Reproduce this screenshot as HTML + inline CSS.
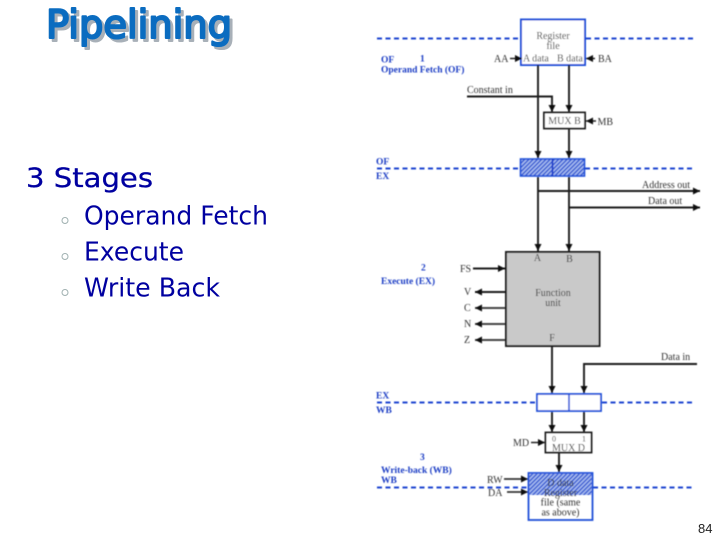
<!DOCTYPE html>
<html>
<head>
<meta charset="utf-8">
<style>
html,body{margin:0;padding:0;background:#fff;width:720px;height:540px;overflow:hidden}
svg{display:block}
.s{font-family:"Liberation Serif",serif;fill:#333;font-size:10px}
.b{font-family:"Liberation Serif",serif;fill:#1b3cc4;font-size:9.5px;font-weight:bold}
.t{font-family:"DejaVu Sans",sans-serif;fill:#0000a0}
.ti{font-family:"DejaVu Sans",sans-serif;font-size:39px;stroke-width:2.1px;stroke-linejoin:round;stroke-linecap:round}
</style>
</head>
<body>
<svg width="720" height="540" viewBox="0 0 720 540" xmlns="http://www.w3.org/2000/svg">
<defs>
<pattern id="h" width="3" height="3" patternUnits="userSpaceOnUse" patternTransform="rotate(45)">
<rect width="3" height="3" fill="#a9bdf0"/>
<rect width="1.4" height="3" fill="#2f55d0"/>
</pattern>
<marker id="a" markerWidth="9" markerHeight="8" refX="7" refY="4" orient="auto" markerUnits="userSpaceOnUse">
<path d="M0,0.5 L7,4 L0,7.5 Z" fill="#111"/>
</marker>
<filter id="bl" filterUnits="userSpaceOnUse" x="360" y="0" width="360" height="540"><feGaussianBlur stdDeviation="0.5"/></filter>
</defs>

<!-- Title -->
<text class="ti" x="49" y="41" textLength="186" lengthAdjust="spacingAndGlyphs" fill="#a8b0b8" stroke="#a8b0b8">Pipelining</text>
<text class="ti" x="46" y="38" textLength="186" lengthAdjust="spacingAndGlyphs" fill="#0b6cc0" stroke="#0b6cc0">Pipelining</text>

<!-- Left text -->
<text class="t" x="26" y="187" font-size="27" textLength="127" lengthAdjust="spacingAndGlyphs" stroke="#0000a0" stroke-width="0.3">3 Stages</text>
<text class="t" x="84" y="224.500" font-size="26" textLength="184" lengthAdjust="spacingAndGlyphs">Operand Fetch</text>
<text class="t" x="84" y="260.500" font-size="26" textLength="100" lengthAdjust="spacingAndGlyphs">Execute</text>
<text class="t" x="84" y="296.500" font-size="26" textLength="136" lengthAdjust="spacingAndGlyphs">Write Back</text>
<g fill="none" stroke="#9fb0b0" stroke-width="1">
<circle cx="65" cy="220.500" r="3"/>
<circle cx="65" cy="256.500" r="3"/>
<circle cx="65" cy="292.500" r="3"/>
</g>

<text x="698" y="533" font-family="'Liberation Sans',sans-serif" font-size="13" fill="#222">84</text>

<g filter="url(#bl)">
<!-- Dashed stage lines -->
<g stroke="#1f45d0" stroke-width="2" stroke-dasharray="5 3.500" fill="none">
<path d="M377 38.500H520"/><path d="M586 38.500H693"/>
<path d="M377 168.500H520"/><path d="M585 168.500H693"/>
<path d="M377 402.500H536"/><path d="M602 402.500H693"/>
<path d="M377 487.500H528"/><path d="M593 487.500H693"/>
</g>

<!-- Register file -->
<rect x="521" y="19.500" width="64" height="45.500" fill="#fff" stroke="#1f4fd8" stroke-width="2"/>
<text class="s" x="553" y="39" text-anchor="middle">Register</text>
<text class="s" x="553" y="49" text-anchor="middle">file</text>
<text class="s" x="523" y="61.500">A data</text>
<text class="s" x="557" y="61.500">B data</text>

<!-- OF labels -->
<text class="b" x="381" y="62.500">OF</text>
<text class="b" x="420" y="61.500">1</text>
<text class="b" x="381" y="72.500">Operand Fetch (OF)</text>
<text class="b" x="376" y="164.500">OF</text>
<text class="b" x="376" y="179">EX</text>
<text class="b" x="421" y="270.500">2</text>
<text class="b" x="381" y="284">Execute (EX)</text>
<text class="b" x="376" y="398.500">EX</text>
<text class="b" x="376" y="413">WB</text>
<text class="b" x="420" y="460">3</text>
<text class="b" x="381" y="473">Write-back (WB)</text>
<text class="b" x="381" y="483">WB</text>

<!-- Connectors -->
<g stroke="#1c1c1c" stroke-width="1.900" fill="none">
<path d="M510 58.500H522" stroke-width="1.400" marker-end="url(#a)"/>
<path d="M595 58.500H586" stroke-width="1.400" marker-end="url(#a)"/>
<path d="M538 65V158" marker-end="url(#a)"/>
<path d="M569 65V112" marker-end="url(#a)"/>
<path d="M467 96.500H552V112" marker-end="url(#a)"/>
<path d="M569 129V158" marker-end="url(#a)"/>
<path d="M596 121H586" stroke-width="1.400" marker-end="url(#a)"/>
<path d="M538 177V251" marker-end="url(#a)"/>
<path d="M569 177V251" marker-end="url(#a)"/>
<path d="M538 191H700" marker-end="url(#a)"/>
<path d="M569 207.500H700" marker-end="url(#a)"/>
<path d="M552 346V393" marker-end="url(#a)"/>
<path d="M697 364H584V393" marker-end="url(#a)"/>
<path d="M552 412V432" marker-end="url(#a)"/>
<path d="M584 412V432" marker-end="url(#a)"/>
<path d="M559 453V472" marker-end="url(#a)"/>
<path d="M531 442.500H545" stroke-width="1.400" marker-end="url(#a)"/>
<path d="M504 479H528" stroke-width="1.400" marker-end="url(#a)"/>
<path d="M507 492H528" stroke-width="1.400" marker-end="url(#a)"/>
<path d="M473 268.500H505" marker-end="url(#a)"/>
<path d="M505 292H475" marker-end="url(#a)"/>
<path d="M505 308H475" marker-end="url(#a)" stroke="#444"/>
<path d="M505 324H475" marker-end="url(#a)" stroke="#444"/>
<path d="M505 340H475" marker-end="url(#a)" stroke="#444"/>
</g>

<text class="s" x="494" y="62">AA</text>
<text class="s" x="598" y="62">BA</text>
<text class="s" x="467" y="93">Constant in</text>
<text class="s" x="642" y="188">Address out</text>
<text class="s" x="648" y="204">Data out</text>
<text class="s" x="661" y="360">Data in</text>

<!-- MUX B -->
<rect x="544" y="112.500" width="41" height="16" fill="#fff" stroke="#1c1c1c" stroke-width="1.900"/>
<text class="s" x="564.500" y="124" text-anchor="middle">MUX B</text>
<text class="s" x="597.500" y="125">MB</text>

<!-- OF/EX register -->
<rect x="520.500" y="159" width="64" height="17" fill="url(#h)" stroke="#1f4fd8" stroke-width="1.600"/>
<path d="M552.500 159V176" stroke="#1538c8" stroke-width="1.600"/>

<!-- Function unit -->
<rect x="506" y="252" width="93.500" height="94" fill="#c9c9c9" stroke="#1c1c1c" stroke-width="2"/>
<text class="s" x="537.500" y="261" text-anchor="middle">A</text>
<text class="s" x="569.500" y="262" text-anchor="middle">B</text>
<text class="s" x="553" y="296" text-anchor="middle">Function</text>
<text class="s" x="553" y="306" text-anchor="middle">unit</text>
<text class="s" x="552" y="341" text-anchor="middle">F</text>
<text class="s" x="460" y="272">FS</text>
<text class="s" x="464" y="295">V</text>
<text class="s" x="464" y="311">C</text>
<text class="s" x="464" y="327">N</text>
<text class="s" x="464" y="343">Z</text>

<!-- EX/WB register -->
<rect x="537" y="394" width="64" height="17" fill="#fff" stroke="#1f4fd8" stroke-width="1.800"/>
<path d="M569 394V411" stroke="#1f4fd8" stroke-width="1.600"/>

<!-- MUX D -->
<rect x="545.500" y="432.500" width="46" height="20" fill="#fff" stroke="#1c1c1c" stroke-width="1.900"/>
<text x="552" y="441.500" font-family="'Liberation Serif',serif" font-size="8" fill="#333">0</text>
<text x="582" y="441.500" font-family="'Liberation Serif',serif" font-size="8" fill="#333">1</text>
<text class="s" x="568.500" y="451" text-anchor="middle">MUX D</text>
<text class="s" x="513" y="446">MD</text>

<!-- Bottom register -->
<rect x="529.500" y="474" width="62" height="21" fill="url(#h)"/>
<rect x="528.500" y="473" width="64" height="47" fill="none" stroke="#1f4fd8" stroke-width="1.800"/>
<text class="s" x="560.500" y="486" text-anchor="middle">D data</text>
<text class="s" x="560.500" y="496" text-anchor="middle">Register</text>
<text class="s" x="560.500" y="505.500" text-anchor="middle">file (same</text>
<text class="s" x="560.500" y="515.500" text-anchor="middle">as above)</text>
<text class="s" x="487" y="483">RW</text>
<text class="s" x="488" y="496">DA</text>
</g>
</svg>
</body>
</html>
